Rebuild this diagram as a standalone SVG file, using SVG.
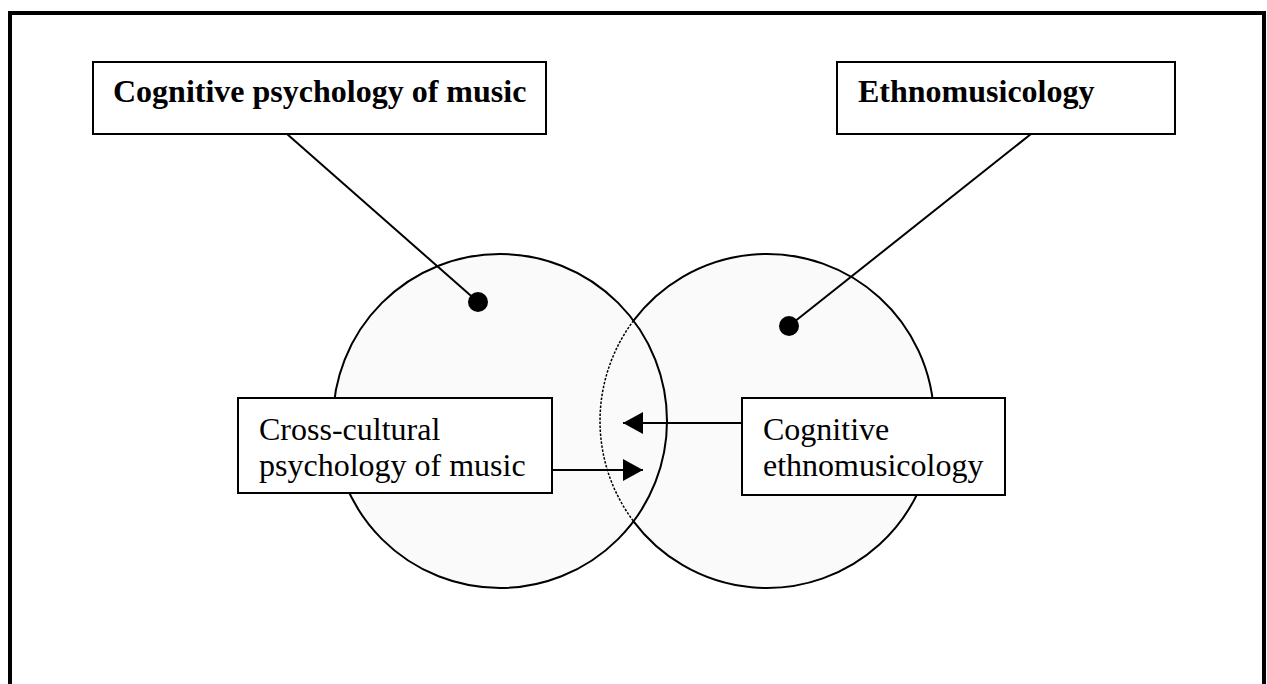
<svg xmlns="http://www.w3.org/2000/svg" width="1267" height="684" viewBox="0 0 1267 684">
  <style>
    .box { fill: #ffffff; stroke: #000000; stroke-width: 2; }
    .title { font-family: "Liberation Serif", "Times New Roman", serif; font-size: 32px; font-weight: bold; fill: #000000; }
    .label { font-family: "Liberation Serif", "Times New Roman", serif; font-size: 32px; fill: #000000; }
    .circle-fill { fill: #fafafa; stroke: none; }
    .circle-line { fill: none; stroke: #000000; stroke-width: 2; }
    .link { fill: none; stroke: #000000; stroke-width: 2; }
    .dot { fill: #000000; }
  </style>
  <defs>
    <marker id="arrow" viewBox="0 0 20 22" refX="20" refY="11" markerWidth="20" markerHeight="22" markerUnits="userSpaceOnUse" orient="auto">
      <path d="M0,0 L20,11 L0,22 Z" fill="#000000"/>
    </marker>
  </defs>
  <rect x="0" y="0" width="1267" height="684" fill="#ffffff"/>
  <!-- outer frame -->
  <path d="M10,684 V13 H1264 V684" fill="none" stroke="#000000" stroke-width="4"/>

  <g id="circle-ethnomusicology">
    <circle class="circle-fill" cx="767" cy="421" r="167"/>
  </g>
  <g id="circle-cognitive-psychology">
    <circle class="circle-fill" cx="500" cy="421" r="167"/>
    <circle class="circle-line" cx="500" cy="421" r="167"/>
  </g>
  <g id="circle-ethnomusicology-outline">
    <path class="circle-line" d="M633.5,320.7 A167,167 0 1 1 633.5,521.3"/>
    <path d="M633.5,320.7 A167,167 0 0 0 633.5,521.3" fill="none" stroke="#000000" stroke-width="1.5" stroke-dasharray="2.5 1.5"/>
  </g>

  <g id="connectors">
    <line class="link" x1="287" y1="134" x2="478" y2="302"/>
    <line class="link" x1="1031" y1="134" x2="789" y2="326"/>
    <circle class="dot" cx="478" cy="302" r="10"/>
    <circle class="dot" cx="789" cy="326" r="10"/>
    <line class="link" x1="742" y1="423" x2="623" y2="423" marker-end="url(#arrow)"/>
    <line class="link" x1="552" y1="470" x2="643" y2="470" marker-end="url(#arrow)"/>
  </g>

  <g id="node-cognitive-psychology">
    <rect class="box" x="93" y="62" width="453" height="72"/>
    <text class="title" x="113" y="102">Cognitive psychology of music</text>
  </g>
  <g id="node-ethnomusicology">
    <rect class="box" x="837" y="62" width="338" height="72"/>
    <text class="title" x="858" y="102">Ethnomusicology</text>
  </g>
  <g id="node-cross-cultural">
    <rect class="box" x="238" y="398" width="314" height="95"/>
    <text class="label" x="259" y="440">Cross-cultural</text>
    <text class="label" x="259" y="476">psychology of music</text>
  </g>
  <g id="node-cognitive-ethnomusicology">
    <rect class="box" x="742" y="398" width="263" height="97"/>
    <text class="label" x="763" y="440">Cognitive</text>
    <text class="label" x="763" y="476">ethnomusicology</text>
  </g>
</svg>
